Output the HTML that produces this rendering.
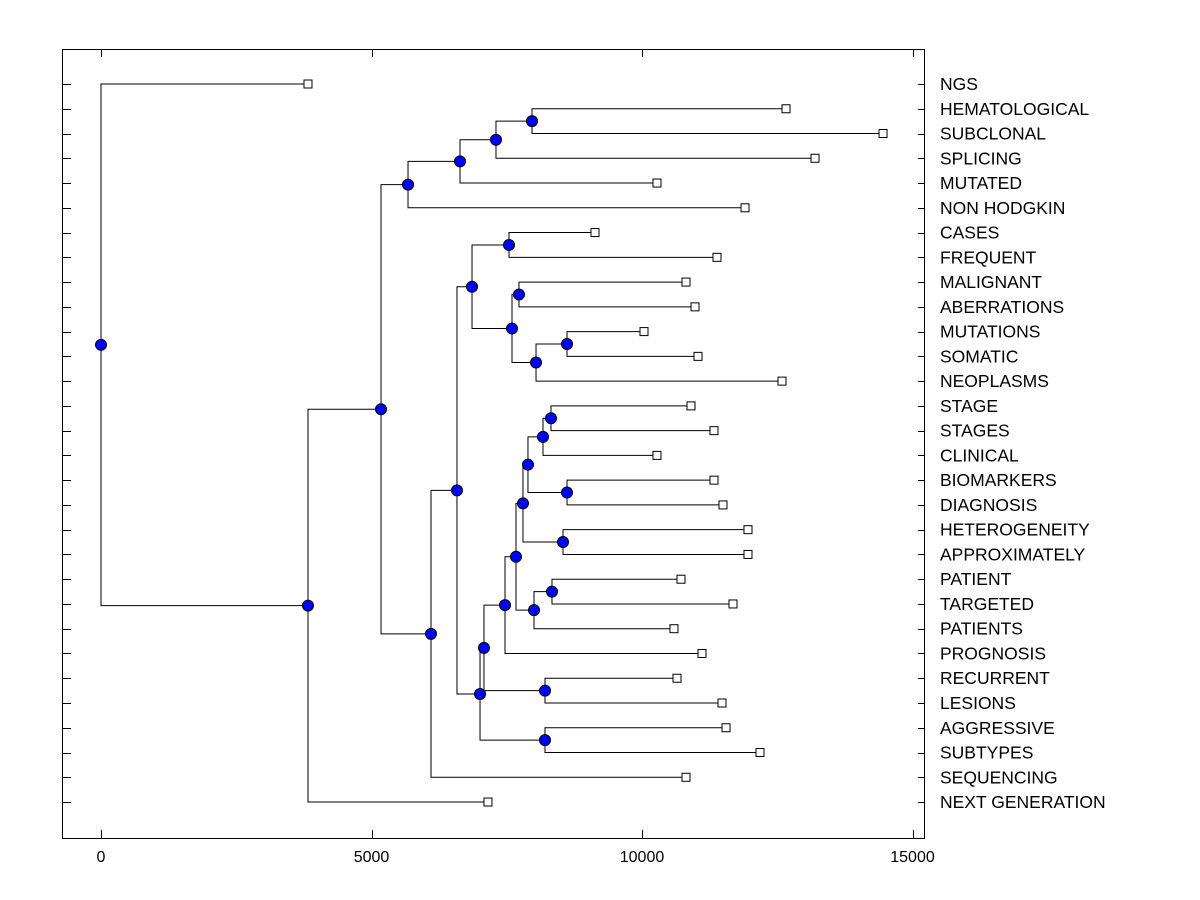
<!DOCTYPE html>
<html><head><meta charset="utf-8"><style>
body{margin:0;background:#fff}
svg{display:block;font-family:"Liberation Sans",Arial,sans-serif}
</style></head><body>
<svg id="chart" width="1200" height="900" viewBox="0 0 1200 900" xmlns="http://www.w3.org/2000/svg">
<rect x="0" y="0" width="1200" height="900" fill="#fff"/>
<rect x="62.5" y="49.5" width="862" height="789" fill="none" stroke="#000"/>
<g id="g"></g>
</svg>
<script>
const leafLabels = ["NGS","HEMATOLOGICAL","SUBCLONAL","SPLICING","MUTATED","NON HODGKIN","CASES","FREQUENT","MALIGNANT","ABERRATIONS","MUTATIONS","SOMATIC","NEOPLASMS","STAGE","STAGES","CLINICAL","BIOMARKERS","DIAGNOSIS","HETEROGENEITY","APPROXIMATELY","PATIENT","TARGETED","PATIENTS","PROGNOSIS","RECURRENT","LESIONS","AGGRESSIVE","SUBTYPES","SEQUENCING","NEXT GENERATION"];
const leafValues = [3826,12662,14455,13198,10277,11904,9131,11386,10813,10980,10037,11035,12588,10906,11331,10277,11331,11497,11959,11959,10721,11682,10591,11109,10647,11479,11553,12181,10813,7153];
// internal nodes: name, height, children (leaf index as number, node name as string)
const nodeNames = ["root","A","B","C","E","F","G","D","H","I","K","L","M","N","O","J","Jb","P","R","S","T","U","W","V","Y","X","Z","Q","RL"];
const nodeHeights = [0,3826,5176,5675,6636,7301,7967,6100,6580,6858,7542,7597,7726,8041,8614,7006,7079,7468,7671,7800,8004,8336,8540,7892,8614,8170,8318,8207,8207];
const nodeChildren = [[0,"A"],["B",29],["C","D"],["E",5],["F",4],["G",3],[1,2],["H",28],["I","J"],["K","L"],[6,7],["M","N"],[8,9],["O",12],[10,11],["Jb","Q"],["P","RL"],["R",23],["S","T"],["V","W"],["U",22],[20,21],[18,19],["X","Y"],[16,17],["Z",15],[13,14],[26,27],[24,25]];
const xTicks = [0,5000,10000,15000];

const X = v => 101 + v * 0.05410;
const Y = i => 84 + i * 24.76;
const NS = "http://www.w3.org/2000/svg";
const g = document.getElementById('g');
function mk(tag, attrs){const e=document.createElementNS(NS,tag);for(const k in attrs)e.setAttribute(k,attrs[k]);g.appendChild(e);return e;}

xTicks.forEach(t=>{
  const x=Math.round(X(t))+0.5;
  const a=mk('line',{x1:x,y1:49,x2:x,y2:57,stroke:'#000'});
  
  
  const b=mk('line',{x1:x,y1:830,x2:x,y2:838,stroke:'#000'});
  
  
  const tx=mk('text',{x:X(t),y:862,'text-anchor':'middle','font-size':16,fill:'#000'});
  tx.textContent=t;
  
  
});
leafLabels.forEach((l,i)=>{
  const y=Math.round(Y(i))+0.5;
  const a=mk('line',{x1:62,y1:y,x2:71,y2:y,stroke:'#000'});
  
  
  const b=mk('line',{x1:918,y1:y,x2:925,y2:y,stroke:'#000'});
  
  
  const tx=mk('text',{x:940,y:Y(i)+6,'font-size':17.5,fill:'#000'});
  tx.textContent=l;
  
  
});

const nodes={};
nodeNames.forEach((n,i)=>nodes[n]={h:nodeHeights[i],ch:nodeChildren[i]});
function pos(c){
  if(typeof c==='number') return {x:X(leafValues[c]),y:Y(c)};
  const n=nodes[c];
  if(n.p) return n.p;
  const ys=n.ch.map(k=>pos(k).y);
  n.p={x:X(n.h),y:(Math.min(...ys)+Math.max(...ys))/2};
  return n.p;
}
const dots=[];
function draw(name){
  const n=nodes[name], p=pos(name);
  n.ch.forEach(c=>{
    const q=pos(c);
    const l=mk('polyline',{points:`${p.x},${p.y} ${p.x},${q.y} ${q.x},${q.y}`,fill:'none',stroke:'#000','stroke-width':1});
    
    
    if(typeof c==='string') draw(c);
    else {
      const r=mk('rect',{x:q.x-4,y:q.y-4,width:8,height:8,fill:'#fff',stroke:'#000'});
      
      
    }
  });
  dots.push(p);
}
draw('root');
dots.forEach(p=>{
  const c=mk('circle',{cx:p.x,cy:p.y,r:5.5,fill:'#0000ff',stroke:'#000','stroke-width':1});
  
  
});
</script>
</body></html>
